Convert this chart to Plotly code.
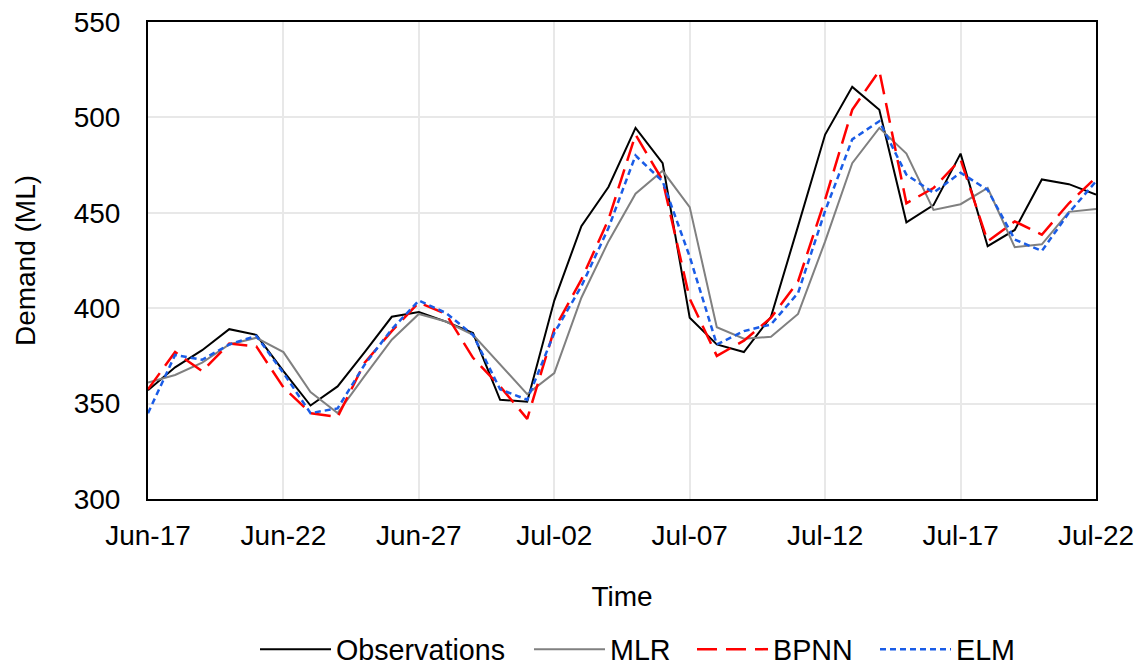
import pandas as pd
import plotly.graph_objects as go

dates = pd.date_range("2017-06-17", "2017-07-22", freq="D")

observations = [357, 369, 378, 389, 386, 367, 349, 359, 377, 395.5, 398, 393,
                387, 352, 351, 404, 443, 463.5, 494.5, 476, 395, 381, 377, 395.5,
                443, 491, 516, 504, 445, 454, 481, 432.5, 441, 467.5, 465, 459.5]
mlr = [361, 365, 371.5, 381, 384.5, 377, 356, 345, 364.5, 383.5, 397, 393,
       386, 370.5, 355, 366, 405.5, 435, 460, 472, 453, 390, 384, 385,
       397, 435, 476, 494.5, 481, 451.5, 454.5, 463, 432, 433.5, 450.5, 452]
bpnn = [357.5, 377, 367, 381.5, 380, 358.5, 345, 343, 371.5, 388, 403, 397,
        374, 359, 342, 389, 415, 446.5, 491, 467, 405, 375, 383, 395,
        414, 457, 504, 524.5, 455, 463, 478, 435, 445.5, 438.5, 455, 468.5]
elm = [345, 375.5, 373, 381, 385.5, 366, 345, 347.5, 370.5, 389, 404, 397.5,
       386, 357.5, 352, 387, 411.5, 442, 480, 466.5, 427, 381, 388, 391.5,
       408, 451, 488.5, 498, 470, 460.5, 471, 462, 436, 430, 450, 466.5]

names = ["Observations", "MLR", "BPNN", "ELM"]
styles = [
    dict(color="#000000", width=2, dash="solid"),
    dict(color="#808080", width=2, dash="solid"),
    dict(color="#ff0000", width=2.5, dash="20px,9px"),
    dict(color="#1a5ce6", width=2.5, dash="6px,4px"),
]
values = [observations, mlr, bpnn, elm]
legend_ids = ["legend", "legend2", "legend3", "legend4"]
legend_left_px = [255, 529, 692, 875]

font = "Liberation Sans, Arial, sans-serif"
fig = go.Figure()
for name, vals, line, lid in zip(names, values, styles, legend_ids):
    fig.add_trace(go.Scatter(x=dates, y=vals, mode="lines", name=name, line=line,
                             legend=lid))

legend_layout = {}
for lid, left in zip(legend_ids, legend_left_px):
    legend_layout[lid] = dict(
        orientation="h", xref="container", x=left / 1140, xanchor="left",
        yref="container", y=0.063, yanchor="top",
        font=dict(size=28.7, family=font), itemwidth=71,
        bgcolor="rgba(0,0,0,0)",
    )

fig.update_layout(
    width=1140, height=666,
    margin=dict(l=148, r=44, t=22, b=167),
    paper_bgcolor="white", plot_bgcolor="white",
    font=dict(family=font, size=28, color="#000000"),
    showlegend=True,
    **legend_layout,
)
fig.update_xaxes(
    range=[dates[0], dates[-1]], tickformat="%b-%d", dtick=5 * 86400000,
    tick0=dates[0], showgrid=True, gridcolor="#e8e8e8", gridwidth=2,
    showline=True, linecolor="#000000", linewidth=2, mirror=True,
    ticks="", ticklabelstandoff=10, tickfont=dict(size=28), automargin=False,
    title=dict(text="Time", font=dict(size=28), standoff=37),
)
fig.update_yaxes(
    range=[300, 550], dtick=50, showgrid=True, gridcolor="#e8e8e8", gridwidth=2,
    showline=True, linecolor="#000000", linewidth=2, mirror=True,
    ticks="", tickfont=dict(size=28), zeroline=False, ticklabelstandoff=20,
    automargin=False,
    title=dict(text="Demand (ML)", font=dict(size=28), standoff=30),
)
fig.write_html("out.html")
